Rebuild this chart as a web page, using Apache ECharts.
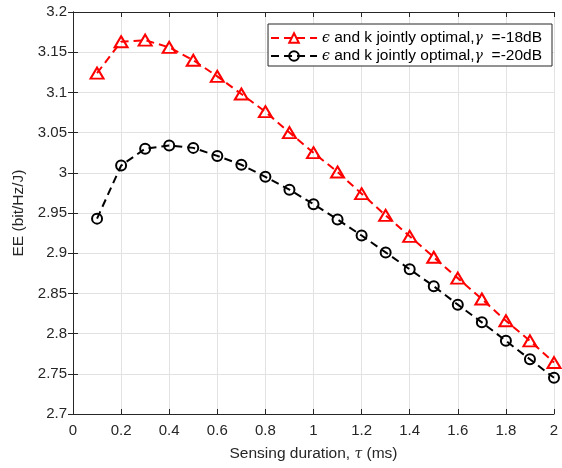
<!DOCTYPE html>
<html>
<head>
<meta charset="utf-8">
<script src="https://cdn.jsdelivr.net/npm/echarts@6/dist/echarts.min.js"></script>
<style>
  html, body { margin: 0; padding: 0; background: #fff; }
  #chart { width: 562px; height: 468px; }
</style>
</head>
<body>
<div id="chart"></div>
<script>
  // sensing duration tau (ms)
  var tau = [0.1, 0.2, 0.3, 0.4, 0.5, 0.6, 0.7, 0.8, 0.9, 1.0, 1.1, 1.2, 1.3, 1.4, 1.5, 1.6, 1.7, 1.8, 1.9, 2.0];
  // EE, gamma = -18dB
  var ee18 = [3.124, 3.163, 3.165, 3.156, 3.140, 3.120, 3.098, 3.076, 3.050, 3.025, 3.001, 2.974, 2.947, 2.921, 2.895, 2.869, 2.843, 2.816, 2.791, 2.764];
  // EE, gamma = -20dB
  var ee20 = [2.943, 3.009, 3.030, 3.034, 3.031, 3.021, 3.010, 2.995, 2.979, 2.961, 2.942, 2.922, 2.901, 2.880, 2.859, 2.836, 2.814, 2.791, 2.768, 2.745];
  var seriesNames = ['eps18', 'eps20'];
  var legendText = ['-18dB', '-20dB'];

  var axisColor = '#262626';
  var font = 'Liberation Sans, Arial, Helvetica, sans-serif';

  function pairs(ys) {
    return tau.map(function (t, i) { return [t, ys[i]]; });
  }

  var chart = echarts.init(document.getElementById('chart'));

  var option = {
    animation: false,
    backgroundColor: '#fff',
    grid: { left: 73, right: 8, top: 12, bottom: 54 },
    legend: {
      right: 10,
      top: 24,
      orient: 'vertical',
      backgroundColor: '#fff',
      borderColor: axisColor,
      borderWidth: 1,
      borderRadius: 0,
      padding: [6, 10, 2, 2],
      itemGap: 2,
      itemWidth: 46,
      itemHeight: 12,
      data: seriesNames,
      formatter: function (name) {
        var i = seriesNames.indexOf(name);
        return '{e|ϵ} and k jointly optimal,{g|γ}  =' + legendText[i];
      },
      textStyle: {
        color: '#000',
        fontFamily: font,
        fontSize: 15.5,
        rich: {
          e: { fontFamily: 'DejaVu Serif', fontStyle: 'italic', fontSize: 14, color: '#000' },
          g: { fontFamily: 'DejaVu Serif', fontStyle: 'italic', fontSize: 14, color: '#000' }
        }
      }
    },
    xAxis: [{
      type: 'value',
      min: 0,
      max: 2,
      interval: 0.2,
      name: 'Sensing duration, {t|τ} (ms)',
      nameLocation: 'middle',
      nameGap: 32,
      nameTextStyle: {
        color: axisColor, fontFamily: font, fontSize: 15.5,
        rich: { t: { fontFamily: 'DejaVu Serif', fontStyle: 'italic', fontSize: 14, color: axisColor } }
      },
      axisLine: { show: true, lineStyle: { color: axisColor, width: 1 } },
      axisTick: { show: true, inside: true, length: 5, lineStyle: { color: axisColor } },
      axisLabel: { color: axisColor, fontFamily: font, fontSize: 15, margin: 9 },
      splitLine: { show: true, lineStyle: { color: '#e2e2e2', width: 1 } }
    }, {
      type: 'value',
      position: 'top',
      min: 0,
      max: 2,
      interval: 0.2,
      axisLine: { show: true, lineStyle: { color: axisColor, width: 1 } },
      axisTick: { show: true, inside: true, length: 5, lineStyle: { color: axisColor } },
      axisLabel: { show: false },
      splitLine: { show: false }
    }],
    yAxis: [{
      type: 'value',
      min: 2.7,
      max: 3.2,
      interval: 0.05,
      name: 'EE (bit/Hz/J)',
      nameLocation: 'middle',
      nameRotate: 90,
      nameGap: 42,
      nameTextStyle: { color: axisColor, fontFamily: font, fontSize: 15.5 },
      axisLine: { show: true, lineStyle: { color: axisColor, width: 1 } },
      axisTick: { show: true, inside: true, length: 5, lineStyle: { color: axisColor } },
      axisLabel: { color: axisColor, fontFamily: font, fontSize: 15, margin: 6 },
      splitLine: { show: true, lineStyle: { color: '#e2e2e2', width: 1 } }
    }, {
      type: 'value',
      position: 'right',
      min: 2.7,
      max: 3.2,
      interval: 0.05,
      axisLine: { show: true, lineStyle: { color: axisColor, width: 1 } },
      axisTick: { show: true, inside: true, length: 5, lineStyle: { color: axisColor } },
      axisLabel: { show: false },
      splitLine: { show: false }
    }],
    series: [{
      name: seriesNames[0],
      type: 'line',
      data: pairs(ee18),
      symbol: 'triangle',
      symbolSize: [13, 11],
      showAllSymbol: true,
      lineStyle: { color: '#ff0000', width: 2, type: [8, 5] },
      itemStyle: { color: 'rgba(0,0,0,0)', borderColor: '#ff0000', borderWidth: 2 },
      z: 3
    }, {
      name: seriesNames[1],
      type: 'line',
      data: pairs(ee20),
      symbol: 'circle',
      symbolSize: 10,
      showAllSymbol: true,
      lineStyle: { color: '#000000', width: 2, type: [8, 5] },
      itemStyle: { color: 'rgba(0,0,0,0)', borderColor: '#000000', borderWidth: 2 },
      z: 2
    }]
  };

  chart.setOption(option);
</script>
</body>
</html>
